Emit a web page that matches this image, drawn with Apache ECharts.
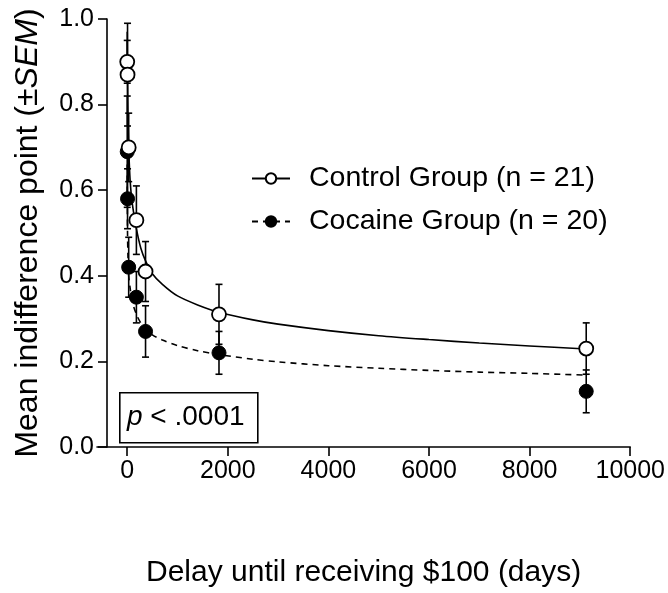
<!DOCTYPE html>
<html>
<head>
<meta charset="utf-8">
<script src="https://cdn.jsdelivr.net/npm/echarts@6/dist/echarts.min.js"></script>
<style>
html,body{margin:0;padding:0;background:#fff;}
#chart{width:668px;height:593px;}
</style>
</head>
<body>
<div id="chart"></div>
<script>
// Delays (days)
const delays = [1, 7, 30, 183, 365, 1825, 9125];
// Control group means and SEM
const controlMean = [0.90, 0.87, 0.70, 0.53, 0.41, 0.31, 0.23];
const controlSEM  = [0.05, 0.12, 0.08, 0.08, 0.07, 0.07, 0.06];
// Cocaine group means and SEM
const cocaineMean = [0.69, 0.58, 0.42, 0.35, 0.27, 0.22, 0.13];
const cocaineSEM  = [0.13, 0.07, 0.07, 0.06, 0.06, 0.05, 0.05];
// Fitted curves
const curveDays    = [1, 3, 7, 15, 30, 60, 100, 183, 270, 365, 500, 700, 1000, 1400, 1825, 2500, 3000, 4000, 5000, 6000, 7000, 8000, 9125];
const controlCurve = [0.97, 0.92, 0.86, 0.78, 0.70, 0.62, 0.57, 0.51, 0.465, 0.435, 0.405, 0.38, 0.353, 0.332, 0.315, 0.297, 0.287, 0.272, 0.26, 0.251, 0.243, 0.236, 0.229];
const cocaineCurve = [0.66, 0.57, 0.50, 0.45, 0.40, 0.37, 0.34, 0.31, 0.29, 0.276, 0.262, 0.25, 0.237, 0.225, 0.216, 0.205, 0.199, 0.19, 0.184, 0.179, 0.175, 0.172, 0.168];
// Axis ticks
const xTicks = [0, 2000, 4000, 6000, 8000, 10000];
const yTicks = [0.0, 0.2, 0.4, 0.6, 0.8, 1.0];

const FONT = 'Liberation Sans, Arial, sans-serif';

function pairs(xs, ys){ return xs.map((x,i)=>[x, ys[i]]); }
function errData(xs, m, s){ return xs.map((x,i)=>[x, m[i]-s[i], m[i]+s[i]]); }

function errRender(params, api){
  const x = api.value(0);
  const lo = api.coord([x, api.value(1)]);
  const hi = api.coord([x, api.value(2)]);
  const w = 3.5;
  const st = {stroke:'#000', lineWidth:1.6, fill:null};
  return {type:'group', children:[
    {type:'line', shape:{x1:lo[0],y1:lo[1],x2:hi[0],y2:hi[1]}, style:st},
    {type:'line', shape:{x1:lo[0]-w,y1:lo[1],x2:lo[0]+w,y2:lo[1]}, style:st},
    {type:'line', shape:{x1:hi[0]-w,y1:hi[1],x2:hi[0]+w,y2:hi[1]}, style:st}
  ]};
}

const chart = echarts.init(document.getElementById('chart'), null, {renderer:'canvas'});
chart.setOption({
  animation:false,
  backgroundColor:'#fff',
  grid:{left:97, right:34, top:19, bottom:145, containLabel:false},
  xAxis:{
    type:'value', min:-600, max:10000,
    axisLine:{show:true, onZero:false, lineStyle:{color:'#000', width:1.6}},
    axisTick:{show:true, length:9, lineStyle:{color:'#000', width:1.6}, customValues: xTicks},
    axisLabel:{color:'#000', fontFamily:FONT, fontSize:25, margin:12, customValues: xTicks, formatter:v=>String(v)},
    splitLine:{show:false},
    name:'Delay until receiving $100 (days)', nameLocation:'middle', nameGap:111,
    nameTextStyle:{color:'#000', fontFamily:FONT, fontSize:30}
  },
  yAxis:{
    type:'value', min:0, max:1, interval:0.2, offset:-10,
    axisLine:{show:true, onZero:false, lineStyle:{color:'#000', width:1.6}},
    axisTick:{show:true, length:9, lineStyle:{color:'#000', width:1.6}},
    axisLabel:{color:'#000', fontFamily:FONT, fontSize:25, margin:13, formatter:v=>v.toFixed(1)},
    splitLine:{show:false},
    name:'Mean indifference point (±{i|SEM})', nameLocation:'middle', nameGap:63,
    nameTextStyle:{color:'#000', fontFamily:FONT, fontSize:32, rich:{i:{fontStyle:'italic', fontFamily:FONT, fontSize:32, color:'#000'}}}
  },
  legend:{
    show:true, orient:'vertical', left:246, top:159, itemWidth:38, itemHeight:13, itemGap:14,
    data:['Control Group (n = 21)','Cocaine Group (n = 20)'],
    textStyle:{color:'#000', fontFamily:FONT, fontSize:28.5, lineHeight:28, padding:[0,0,0,14]}
  },
  series:[
    {name:'Control Group (n = 21)', type:'line', data:pairs(curveDays, controlCurve), smooth:0.3,
     symbol:'circle', symbolSize:12, showSymbol:false, z:2,
     lineStyle:{color:'#000', width:1.6, type:'solid'},
     itemStyle:{color:'#fff', borderColor:'#000', borderWidth:1.6}},
    {name:'Cocaine Group (n = 20)', type:'line', data:pairs(curveDays, cocaineCurve), smooth:0.3,
     symbol:'circle', symbolSize:12, showSymbol:false, z:2,
     lineStyle:{color:'#000', width:1.6, type:[6,5]},
     itemStyle:{color:'#000', borderColor:'#000', borderWidth:1.6}},
    {type:'custom', renderItem:errRender, data:errData(delays, cocaineMean, cocaineSEM), z:3},
    {type:'custom', renderItem:errRender, data:errData(delays, controlMean, controlSEM), z:3},
    {type:'scatter', data:pairs(delays, cocaineMean), symbol:'circle', symbolSize:14, z:4,
     itemStyle:{color:'#000', borderColor:'#000', borderWidth:1, opacity:1}},
    {type:'scatter', data:pairs(delays, controlMean), symbol:'circle', symbolSize:14, z:5,
     itemStyle:{color:'#fff', borderColor:'#000', borderWidth:1.8, opacity:1}}
  ],
  graphic:[
    {type:'rect', left:119, top:392, shape:{width:138, height:50},
     style:{fill:'#fff', stroke:'#000', lineWidth:1.6}, z:10},
    {type:'text', left:127, top:403, z:11,
     style:{text:'{i|p} < .0001', fill:'#000', font:'28px '+FONT,
       rich:{i:{fontStyle:'italic', fontFamily:FONT, fontSize:28, fill:'#000'}}}}
  ]
});
</script>
</body>
</html>
